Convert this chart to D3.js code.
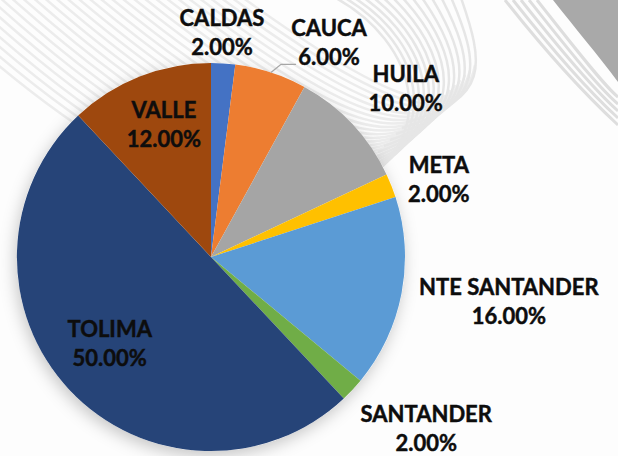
<!DOCTYPE html>
<html>
<head>
<meta charset="utf-8">
<script src="https://cdn.jsdelivr.net/npm/d3@7"></script>
<style>
  html, body { margin: 0; padding: 0; background: #fff; }
  svg { display: block; }
  .lbl { font-family: Lato, "Open Sans", sans-serif; font-weight: 700; font-size: 22px; fill: #0d0d0d; stroke: #0d0d0d; stroke-width: 0.45px; }
</style>
</head>
<body>
<svg id="draw"></svg>
<script>
// departamentos y participacion (%)
const categories = ["CALDAS", "CAUCA", "HUILA", "META", "NTE SANTANDER", "SANTANDER", "TOLIMA", "VALLE"];
const values = [2, 6, 10, 2, 16, 2, 50, 12];
const colors = ["#4472C4", "#ED7D31", "#A5A5A5", "#FFC000", "#5B9BD5", "#70AD47", "#264478", "#9E480E"];

// where each label sits: distance from centre and angle nudge (deg)
const labelPos = [
  {r: 225, da: -0.8}, {r: 245, da: 10.8}, {r: 258, da: 2.2}, {r: 241, da: 2.6},
  {r: 301, da: -2.4}, {r: 275, da: -4.7}, {r: 133, da: 2.8}, {r: 141, da: 2.1}
];

const width = 618, height = 456;
const cx = 211, cy = 257, radius = 194;

const svg = d3.select("#draw").attr("width", width).attr("height", height);

// background decoration (grey ribbon swirl)
const bg = svg.append("g");
bg.append("rect").attr("width", width).attr("height", height).attr("fill", "#fdfdfd");
for (let i = 0; i < 5; i++) {
  bg.append("path")
    .attr("d", `M${505 + i * 8},0 C${535 + i * 8},38 ${575 + i * 7},85 618,${125 - i * 7}`)
    .attr("fill", "none").attr("stroke", "#dedede").attr("stroke-width", 3);
}
bg.append("path")
  .attr("d", "M553,0 C575,28 598,55 618,82 L618,0 Z")
  .attr("fill", "#a9a9a9");
for (let i = 0; i < 30; i++) {
  bg.append("path")
    .attr("d", `M${-80 + i * 11},-5 C${40 + i * 11},${110 - i} ${200 + i * 9},${230 - i * 3} ${330 + i * 5},${210 - i * 5}`)
    .attr("fill", "none").attr("stroke", "#ececec").attr("stroke-width", 2.5);
}
for (let i = 0; i < 14; i++) {
  bg.append("path")
    .attr("d", `M${330 + i * 10},-5 C${420 + i * 5},${40 + i * 2} ${450 + i * 3},${150 - i * 4} ${330 + i * 6},${200 - i * 6}`)
    .attr("fill", "none").attr("stroke", "#e6e6e6").attr("stroke-width", 2.5);
}

const defs = svg.append("defs");
defs.append("filter").attr("id", "shadow")
  .attr("x", "-20%").attr("y", "-20%").attr("width", "140%").attr("height", "140%")
  .append("feDropShadow")
  .attr("dx", -2).attr("dy", 5).attr("stdDeviation", 8)
  .attr("flood-color", "#000").attr("flood-opacity", 0.22);

const g = svg.append("g").attr("transform", "translate(" + cx + "," + cy + ")");

const pie = d3.pie().value(d => d).sort(null);
const arcs = pie(values);

const path = d3.arc().outerRadius(radius).innerRadius(0);

g.append("circle").attr("r", radius).attr("fill", "#fff").attr("filter", "url(#shadow)");

g.selectAll(".slice")
  .data(arcs)
  .enter().append("path")
  .attr("class", "slice")
  .attr("d", path)
  .attr("fill", (d, i) => colors[i]);

const fmt = d3.format(".2%");
const toRad = Math.PI / 180;

function labelXY(d, i) {
  const a = (d.startAngle + d.endAngle) / 2 + labelPos[i].da * toRad;
  const r = labelPos[i].r;
  return [r * Math.sin(a), -r * Math.cos(a)];
}

// leader line for CAUCA
const ci = categories.indexOf("CAUCA");
const cd = arcs[ci];
const midA = (cd.startAngle + cd.endAngle) / 2;
const lp = labelXY(cd, ci);
g.append("polyline")
  .attr("points", [
    [radius * Math.sin(midA), -radius * Math.cos(midA)],
    [lp[0] - 48, lp[1] + 22],
    [lp[0] - 33, lp[1] + 22]
  ].map(p => p.join(",")).join(" "))
  .attr("fill", "none").attr("stroke", "#a6a6a6").attr("stroke-width", 1.3);

const lbl = g.selectAll(".lbl")
  .data(arcs)
  .enter().append("text")
  .attr("class", "lbl")
  .attr("text-anchor", "middle")
  .attr("transform", (d, i) => "translate(" + labelXY(d, i) + ")");

lbl.append("tspan").attr("x", 0).attr("y", -14.5).attr("dominant-baseline", "central")
  .text((d, i) => categories[i]);
lbl.append("tspan").attr("x", 0).attr("y", 14.5).attr("dominant-baseline", "central")
  .text(d => fmt(d.data / 100));
</script>
</body>
</html>
